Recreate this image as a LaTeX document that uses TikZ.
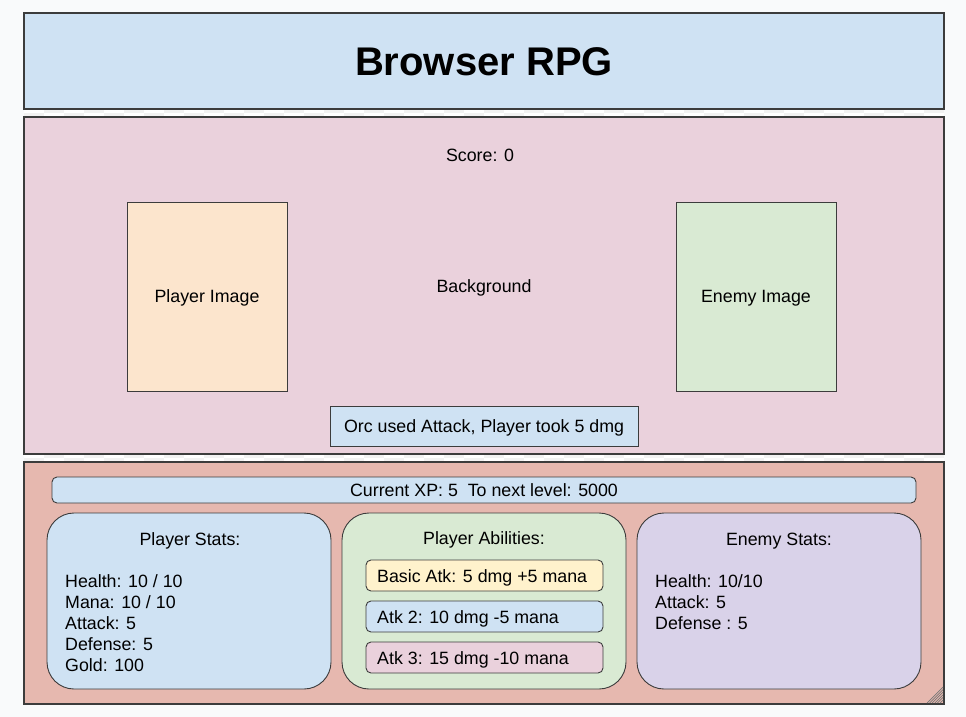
\documentclass[tikz,border=0pt]{standalone}
\usepackage{fontspec}
\setmainfont{Liberation Sans}
\definecolor{pagebg}{HTML}{F9FAFB}
\definecolor{bluef}{HTML}{CFE2F3}
\definecolor{pinkf}{HTML}{EAD1DC}
\definecolor{orangef}{HTML}{FCE5CD}
\definecolor{greenf}{HTML}{D9EAD3}
\definecolor{redf}{HTML}{E6B8AF}
\definecolor{yellowf}{HTML}{FFF2CC}
\definecolor{purplef}{HTML}{D9D2E9}
\definecolor{edge}{HTML}{3C3C3C}
\definecolor{checkA}{HTML}{F2F2F2}
\tikzset{
  panel/.style={draw=edge, line width=1.1pt},
  card/.style={draw=edge, line width=0.9pt, rounded corners=27pt},
  pill/.style={draw=edge, line width=0.9pt, rounded corners=5pt},
  txt/.style={font=\fontsize{17.8}{21}\selectfont, inner sep=0pt, text=black},
  ctxt/.style={txt, text depth=0pt},
}
\begin{document}
\begin{tikzpicture}[x=1pt,y=-1pt]
\useasboundingbox (0,0) rectangle (966,717);
\fill[pagebg] (0,0) rectangle (966,717);
% checker strips between panels
\foreach \y in {109,454}{
  \fill[white] (24,\y) rectangle (944,\y+8);
  \foreach \i in {0,2,...,44}{
    \fill[checkA] (24+20*\i+20,\y) rectangle (24+20*\i+40,\y+4);
    \fill[checkA] (24+20*\i,\y+4) rectangle (24+20*\i+20,\y+8);
  }
}
\fill[pagebg] (944,100) rectangle (966,470);
% title
\draw[panel, fill=bluef] (24,13) rectangle (944,109);
\node[ctxt, font=\fontsize{40}{46}\selectfont\bfseries] (title) at (484,62) {Browser RPG};
% middle
\draw[panel, fill=pinkf] (24,117) rectangle (944,454);
\node[ctxt] (score) at (480,155) {Score: 0};
\node[ctxt] (bg) at (484,286) {Background};
\node[draw=edge, line width=0.9pt, fill=orangef, minimum width=160pt, minimum height=189pt, ctxt] (pimg) at (207,296.5) {Player Image};
\node[draw=edge, line width=0.9pt, fill=greenf, minimum width=160pt, minimum height=189pt, ctxt] (eimg) at (756,296.5) {Enemy Image};
\node[draw=edge, line width=0.9pt, fill=bluef, minimum width=308pt, minimum height=40pt, ctxt] (log) at (484,426.5) {Orc used Attack, Player took 5 dmg};
% bottom
\draw[panel, fill=redf] (24,462) rectangle (944,704);
\foreach \i in {0,...,5}{
  \draw[edge!70, line width=0.7pt] (927+2.6*\i,703) -- (943,687+2.6*\i);
}
\draw[pill, fill=bluef] (52,477) rectangle (916,503);
\node[ctxt] (xp) at (484,490.5) {Current XP: 5\ \ To next level: 5000};
% player stats
\draw[card, fill=bluef] (47,513) rectangle (331,689);
\node[ctxt] (pst) at (190,539.5) {Player Stats:};
\node[txt, anchor=base west] (ph) at (65,587) {Health: 10 / 10};
\node[txt, anchor=base west] (pm) at (65,608) {Mana: 10 / 10};
\node[txt, anchor=base west] (pa) at (65,629) {Attack: 5};
\node[txt, anchor=base west] (pd) at (65,650) {Defense: 5};
\node[txt, anchor=base west] (pg) at (65,671) {Gold: 100};
% abilities
\draw[card, fill=greenf] (342,513) rectangle (626,689);
\node[ctxt] (ab) at (484,538.5) {Player Abilities:};
\draw[pill, fill=yellowf] (366,560) rectangle (603,591);
\node[ctxt, anchor=west] (a1) at (377,576) {Basic Atk: 5 dmg +5 mana};
\draw[pill, fill=bluef] (366,601) rectangle (603,632);
\node[ctxt, anchor=west] (a2) at (377,617) {Atk 2: 10 dmg -5 mana};
\draw[pill, fill=pinkf] (366,642) rectangle (603,673);
\node[ctxt, anchor=west] (a3) at (377,658) {Atk 3: 15 dmg -10 mana};
% enemy stats
\draw[card, fill=purplef] (637,513) rectangle (921,689);
\node[ctxt] (est) at (779,539.5) {Enemy Stats:};
\node[txt, anchor=base west] (eh) at (655,587) {Health: 10/10};
\node[txt, anchor=base west] (ea) at (655,608) {Attack: 5};
\node[txt, anchor=base west] (ed) at (655,629) {Defense : 5};
\end{tikzpicture}
\end{document}
